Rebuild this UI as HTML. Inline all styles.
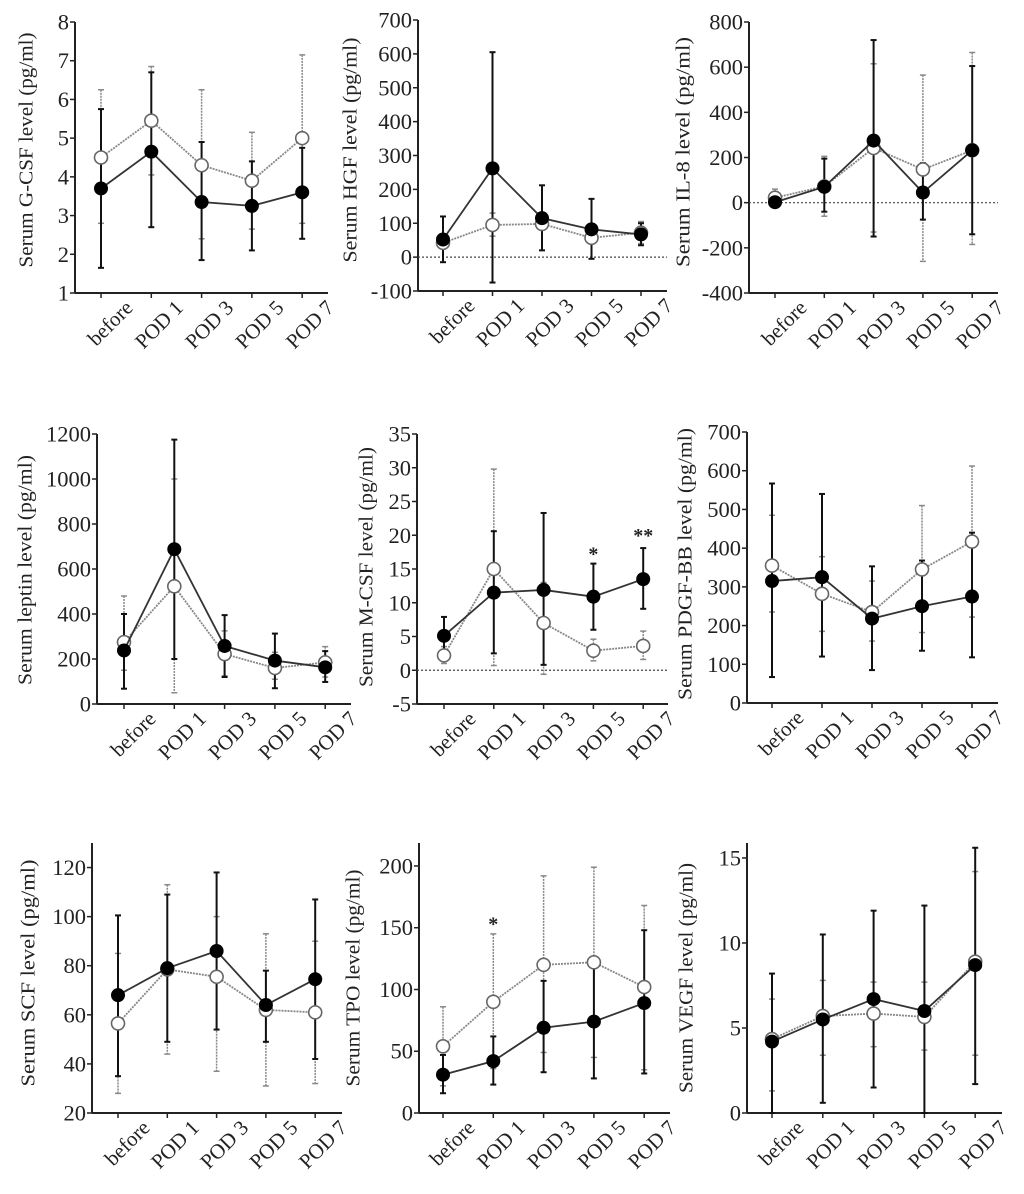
<!DOCTYPE html>
<html><head><meta charset="utf-8"><title>Serum cytokine levels</title>
<style>
html,body{margin:0;padding:0;background:#fff;}
svg{display:block;font-family:"Liberation Serif",serif;}
</style></head>
<body>
<svg id="chart" width="1024" height="1194" viewBox="0 0 1024 1194" xmlns="http://www.w3.org/2000/svg"></svg>
<script>
// ---- shared categories ----
const categories = ["before", "POD 1", "POD 3", "POD 5", "POD 7"];

// ---- G-CSF ----
const gcsfTicks = [1, 2, 3, 4, 5, 6, 7, 8];
const gcsfFilled = [3.7, 4.65, 3.35, 3.25, 3.6];
const gcsfFilledHi = [5.75, 6.7, 4.9, 4.4, 4.75];
const gcsfFilledLo = [1.65, 2.7, 1.85, 2.1, 2.4];
const gcsfOpen = [4.5, 5.45, 4.3, 3.9, 5.0];
const gcsfOpenHi = [6.25, 6.85, 6.25, 5.15, 7.15];
const gcsfOpenLo = [2.8, 4.05, 2.4, 2.65, 2.8];

// ---- HGF ----
const hgfTicks = [-100, 0, 100, 200, 300, 400, 500, 600, 700];
const hgfFilled = [52, 262, 115, 82, 67];
const hgfFilledHi = [120, 605, 212, 172, 100];
const hgfFilledLo = [-15, -75, 20, -5, 35];
const hgfOpen = [42, 95, 98, 57, 72];
const hgfOpenHi = [60, 130, 110, 70, 105];
const hgfOpenLo = [25, 62, 85, 45, 40];

// ---- IL-8 ----
const il8Ticks = [-400, -200, 0, 200, 400, 600, 800];
const il8Filled = [2, 70, 275, 45, 232];
const il8FilledHi = [20, 195, 720, 175, 605];
const il8FilledLo = [-15, -40, -150, -75, -140];
const il8Open = [22, 72, 242, 147, 232];
const il8OpenHi = [60, 205, 615, 565, 665];
const il8OpenLo = [-10, -60, -130, -260, -185];

// ---- leptin ----
const leptinTicks = [0, 200, 400, 600, 800, 1000, 1200];
const leptinFilled = [238, 688, 258, 193, 163];
const leptinFilledHi = [400, 1175, 395, 313, 235];
const leptinFilledLo = [68, 200, 120, 70, 98];
const leptinOpen = [275, 523, 222, 160, 185];
const leptinOpenHi = [480, 1000, 325, 230, 255];
const leptinOpenLo = [150, 50, 125, 110, 120];

// ---- M-CSF ----
const mcsfTicks = [-5, 0, 5, 10, 15, 20, 25, 30, 35];
const mcsfFilled = [5.1, 11.5, 11.9, 10.9, 13.5];
const mcsfFilledHi = [7.9, 20.6, 23.3, 15.8, 18.1];
const mcsfFilledLo = [2.3, 2.5, 0.8, 6.0, 9.1];
const mcsfOpen = [2.2, 15.0, 7.0, 2.9, 3.6];
const mcsfOpenHi = [3.5, 29.8, 13.0, 4.6, 5.8];
const mcsfOpenLo = [1.0, 0.7, -0.6, 1.4, 1.6];
const mcsfStars = ["", "", "", "*", "**"];
const mcsfStarY = [0, 0, 0, 17.6, 20.3];

// ---- PDGF-BB ----
const pdgfTicks = [0, 100, 200, 300, 400, 500, 600, 700];
const pdgfFilled = [315, 325, 218, 250, 275];
const pdgfFilledHi = [567, 540, 353, 368, 440];
const pdgfFilledLo = [67, 120, 85, 135, 118];
const pdgfOpen = [355, 282, 235, 345, 417];
const pdgfOpenHi = [485, 378, 315, 510, 612];
const pdgfOpenLo = [235, 185, 160, 182, 222];

// ---- SCF ----
const scfTicks = [20, 40, 60, 80, 100, 120];
const scfFilled = [68, 79, 86, 64, 74.5];
const scfFilledHi = [100.5, 109, 118, 78, 107];
const scfFilledLo = [35, 49, 54, 49, 42];
const scfOpen = [56.5, 78.5, 75.5, 62, 61];
const scfOpenHi = [85, 113, 100, 93, 90];
const scfOpenLo = [28, 44, 37, 31, 32];

// ---- TPO ----
const tpoTicks = [0, 50, 100, 150, 200];
const tpoFilled = [31, 42, 69, 74, 89];
const tpoFilledHi = [47, 62, 107, 120, 148];
const tpoFilledLo = [16, 23, 33, 28, 32];
const tpoOpen = [54, 90, 120, 122, 102];
const tpoOpenHi = [86, 145, 192, 199, 168];
const tpoOpenLo = [22, 36, 49, 45, 35];
const tpoStars = ["", "*", "", "", ""];
const tpoStarY = [0, 155, 0, 0, 0];

// ---- VEGF ----
const vegfTicks = [0, 5, 10, 15];
const vegfFilled = [4.2, 5.5, 6.7, 6.0, 8.7];
const vegfFilledHi = [8.2, 10.5, 11.9, 12.2, 15.6];
const vegfFilledLo = [0, 0.6, 1.5, 0, 1.7];
const vegfOpen = [4.35, 5.7, 5.85, 5.65, 8.9];
const vegfOpenHi = [6.7, 7.8, 7.7, 7.7, 14.2];
const vegfOpenLo = [1.3, 3.4, 3.9, 3.7, 3.4];

const NS = "http://www.w3.org/2000/svg";
const svg = document.getElementById("chart");
function mk(tag, attrs, parent) {
  const e = document.createElementNS(NS, tag);
  for (const k in attrs) e.setAttribute(k, attrs[k]);
  (parent || svg).appendChild(e);
  return e;
}

const panels = [
  {key:"gcsf", title:"G-CSF level", ax:75, x0:101, dx:50.3, right:328, pTop:22, pBot:293, vmin:1, vmax:8, axTop:22, ticks:gcsfTicks,
   f:gcsfFilled, fh:gcsfFilledHi, fl:gcsfFilledLo, o:gcsfOpen, oh:gcsfOpenHi, ol:gcsfOpenLo, zero:false, tx:28, ty:150, tl:235},
  {key:"hgf", title:"HGF level", ax:418, x0:443, dx:49.5, right:667, pTop:20, pBot:291, vmin:-100, vmax:700, axTop:20, ticks:hgfTicks,
   f:hgfFilled, fh:hgfFilledHi, fl:hgfFilledLo, o:hgfOpen, oh:hgfOpenHi, ol:hgfOpenLo, zero:true, tx:352, ty:150, tl:225},
  {key:"il8", title:"IL-8 level", ax:749, x0:775, dx:49.3, right:998, pTop:22, pBot:293, vmin:-400, vmax:800, axTop:22, ticks:il8Ticks,
   f:il8Filled, fh:il8FilledHi, fl:il8FilledLo, o:il8Open, oh:il8OpenHi, ol:il8OpenLo, zero:true, tx:685, ty:152, tl:230},
  {key:"leptin", title:"leptin  level", ax:97, x0:124, dx:50.3, right:351, pTop:434, pBot:704, vmin:0, vmax:1200, axTop:434, ticks:leptinTicks,
   f:leptinFilled, fh:leptinFilledHi, fl:leptinFilledLo, o:leptinOpen, oh:leptinOpenHi, ol:leptinOpenLo, zero:false, tx:27, ty:570, tl:230},
  {key:"mcsf", title:"M-CSF level", ax:417, x0:444, dx:49.8, right:668, pTop:434, pBot:704, vmin:-5, vmax:35, axTop:434, ticks:mcsfTicks,
   f:mcsfFilled, fh:mcsfFilledHi, fl:mcsfFilledLo, o:mcsfOpen, oh:mcsfOpenHi, ol:mcsfOpenLo, zero:true, tx:368, ty:567, tl:240, stars:mcsfStars, starY:mcsfStarY},
  {key:"pdgf", title:"PDGF-BB level", ax:747, x0:772, dx:50, right:998, pTop:432, pBot:703, vmin:0, vmax:700, axTop:432, ticks:pdgfTicks,
   f:pdgfFilled, fh:pdgfFilledHi, fl:pdgfFilledLo, o:pdgfOpen, oh:pdgfOpenHi, ol:pdgfOpenLo, zero:false, tx:687, ty:564, tl:272},
  {key:"scf", title:"SCF level", ax:92, x0:118, dx:49.3, right:342, pTop:843, pBot:1113, vmin:20, vmax:130, axTop:843, ticks:scfTicks,
   f:scfFilled, fh:scfFilledHi, fl:scfFilledLo, o:scfOpen, oh:scfOpenHi, ol:scfOpenLo, zero:false, tx:30, ty:973, tl:227},
  {key:"tpo", title:"TPO level", ax:419, x0:443, dx:50.3, right:670, pTop:843, pBot:1113, vmin:0, vmax:218.6, axTop:843, ticks:tpoTicks,
   f:tpoFilled, fh:tpoFilledHi, fl:tpoFilledLo, o:tpoOpen, oh:tpoOpenHi, ol:tpoOpenLo, zero:false, tx:355, ty:978, tl:217, stars:tpoStars, starY:tpoStarY},
  {key:"vegf", title:"VEGF level", ax:747, x0:772, dx:50.8, right:1002, pTop:843, pBot:1113, vmin:0, vmax:15.88, axTop:843, ticks:vegfTicks,
   f:vegfFilled, fh:vegfFilledHi, fl:vegfFilledLo, o:vegfOpen, oh:vegfOpenHi, ol:vegfOpenLo, zero:false, tx:688, ty:978, tl:230}
];

panels.forEach(p => {
  const g = mk("g", {});
  
  
  const y = v => p.pBot - (v - p.vmin) / (p.vmax - p.vmin) * (p.pBot - p.pTop);
  const x = i => p.x0 + i * p.dx;

  const yAxis = mk("line", {x1:p.ax, y1:p.axTop, x2:p.ax, y2:p.pBot, stroke:"#222", "stroke-width":2}, g);
  
  
  const xAxis = mk("line", {x1:p.ax, y1:p.pBot, x2:p.right, y2:p.pBot, stroke:"#222", "stroke-width":2}, g);
  
  

  p.ticks.forEach(t => {
    const ty = y(t);
    mk("line", {x1:p.ax - 5, y1:ty, x2:p.ax, y2:ty, stroke:"#222", "stroke-width":1.5}, g);
    const lbl = mk("text", {x:p.ax - 6, y:ty + 7.5, "text-anchor":"end", "font-size":22.5, fill:"#222"}, g);
    
    
    lbl.textContent = t;
  });

  categories.forEach((c, i) => {
    const cx = x(i);
    mk("line", {x1:cx, y1:p.pBot, x2:cx, y2:p.pBot + 5, stroke:"#222", "stroke-width":1.5}, g);
    const ex = cx + 33, ey = p.pBot + 16;
    const lbl = mk("text", {x:ex, y:ey, "text-anchor":"end", "font-size":21, fill:"#222", transform:`rotate(-45 ${ex} ${ey})`}, g);
    
    
    lbl.textContent = c;
  });

  const tt = mk("text", {x:p.tx, y:p.ty, "text-anchor":"middle", "font-size":20, fill:"#222",
    transform:`rotate(-90 ${p.tx} ${p.ty})`, "dominant-baseline":"middle", textLength:p.tl, lengthAdjust:"spacingAndGlyphs"}, g);
  
  
  tt.textContent = "Serum  " + p.title + "  (pg/ml)";

  if (p.zero) {
    const z = mk("line", {x1:p.ax, y1:y(0), x2:p.right, y2:y(0), stroke:"#444", "stroke-width":1.2, "stroke-dasharray":"2,2"}, g);
    
    
  }

  p.o.forEach((v, i) => {
    const eb = mk("line", {x1:x(i), y1:y(p.oh[i]), x2:x(i), y2:y(p.ol[i]), stroke:"#888", "stroke-width":1.5, "stroke-dasharray":"2,1"}, g);
    
    
    mk("line", {x1:x(i) - 3, y1:y(p.oh[i]), x2:x(i) + 3, y2:y(p.oh[i]), stroke:"#888", "stroke-width":1.5}, g);
    mk("line", {x1:x(i) - 3, y1:y(p.ol[i]), x2:x(i) + 3, y2:y(p.ol[i]), stroke:"#888", "stroke-width":1.5}, g);
  });
  const oLine = mk("polyline", {points:p.o.map((v, i) => x(i) + "," + y(v)).join(" "), fill:"none", stroke:"#888", "stroke-width":1.8, "stroke-dasharray":"2,1"}, g);
  
  

  p.f.forEach((v, i) => {
    const eb = mk("line", {x1:x(i), y1:y(p.fh[i]), x2:x(i), y2:y(p.fl[i]), stroke:"#111", "stroke-width":2}, g);
    
    
    mk("line", {x1:x(i) - 3, y1:y(p.fh[i]), x2:x(i) + 3, y2:y(p.fh[i]), stroke:"#111", "stroke-width":2}, g);
    mk("line", {x1:x(i) - 3, y1:y(p.fl[i]), x2:x(i) + 3, y2:y(p.fl[i]), stroke:"#111", "stroke-width":2}, g);
  });
  p.o.forEach((v, i) => {
    const c = mk("circle", {cx:x(i), cy:y(v), r:6.5, fill:"#fff", stroke:"#666", "stroke-width":1.6}, g);
    
    
  });
  const fLine = mk("polyline", {points:p.f.map((v, i) => x(i) + "," + y(v)).join(" "), fill:"none", stroke:"#333", "stroke-width":1.8}, g);
  
  
  p.f.forEach((v, i) => {
    const c = mk("circle", {cx:x(i), cy:y(v), r:7, fill:"#000"}, g);
    
    
  });

  if (p.stars) {
    p.stars.forEach((s, i) => {
      if (!s) return;
      const st = mk("text", {x:x(i), y:y(p.starY[i]) + 9, "text-anchor":"middle", "font-size":20, "font-weight":"bold", fill:"#222"}, g);
      
      
      st.textContent = s;
    });
  }
});
</script>
</body></html>
